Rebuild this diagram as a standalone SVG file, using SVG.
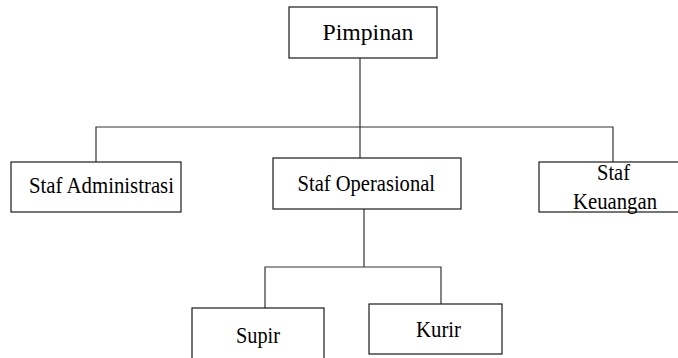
<svg xmlns="http://www.w3.org/2000/svg" width="678" height="358" viewBox="0 0 678 358">
  <style>
    .box { fill: #ffffff; stroke: #1a1a1a; stroke-width: 1.2; }
    .link { fill: none; stroke: #333333; stroke-width: 1.2; }
    .label { font-family: "Liberation Serif", "Times New Roman", serif; font-size: 24px; fill: #000000; }
  </style>
  <rect width="678" height="358" fill="#ffffff"/>

  <!-- connectors -->
  <g id="connectors">
    <path class="link" d="M360,58 V158"/>
    <path class="link" d="M96,162 V127 H613 V162"/>
    <path class="link" d="M364,209 V267"/>
    <path class="link" d="M265,308 V267 H441 V304"/>
  </g>

  <!-- top level -->
  <g id="pimpinan">
    <rect class="box" x="289" y="7" width="148" height="51"/>
    <text class="label" x="322.5" y="40" textLength="91" lengthAdjust="spacingAndGlyphs">Pimpinan</text>
  </g>

  <!-- staff level -->
  <g id="staf-administrasi">
    <rect class="box" x="11" y="162" width="170" height="50"/>
    <text class="label" x="29" y="193" textLength="145" lengthAdjust="spacingAndGlyphs">Staf Administrasi</text>
  </g>
  <g id="staf-operasional">
    <rect class="box" x="273" y="158" width="188" height="51"/>
    <text class="label" x="297.5" y="191" textLength="137.5" lengthAdjust="spacingAndGlyphs">Staf Operasional</text>
  </g>
  <g id="staf-keuangan">
    <rect class="box" x="539" y="162" width="140" height="50"/>
    <text class="label" x="597" y="180" textLength="33" lengthAdjust="spacingAndGlyphs">Staf</text>
    <text class="label" x="573" y="209" textLength="84" lengthAdjust="spacingAndGlyphs">Keuangan</text>
  </g>

  <!-- operational staff -->
  <g id="supir">
    <rect class="box" x="192" y="308" width="132" height="55"/>
    <text class="label" x="236" y="343" textLength="44" lengthAdjust="spacingAndGlyphs">Supir</text>
  </g>
  <g id="kurir">
    <rect class="box" x="369" y="304" width="133" height="50"/>
    <text class="label" x="416" y="337" textLength="45" lengthAdjust="spacingAndGlyphs">Kurir</text>
  </g>
</svg>
